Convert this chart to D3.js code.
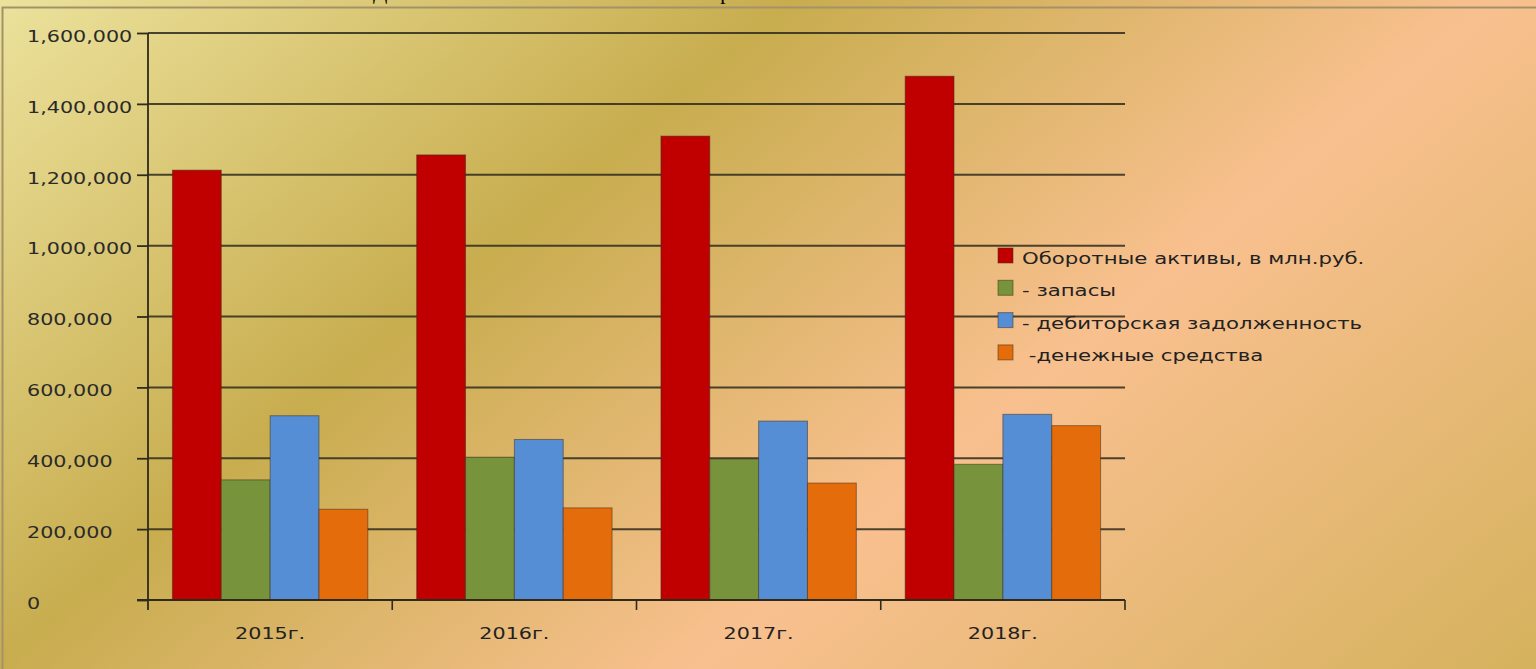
<!DOCTYPE html>
<html>
<head>
  <meta charset="utf-8">
  <style>
    body {
      margin: 0;
      overflow: hidden;
    }
    svg {
      display: block;
    }
    text {
      font-family: "DejaVu Sans", sans-serif;
      fill: #222;
    }
  </style>
</head>
<body>
  <div id="chart"></div>
  <script src="https://d3js.org/d3.v7.min.js"></script>
  <script>
    var width = 1536, height = 669;

    // values
    var years = ["2015г.", "2016г.", "2017г.", "2018г."];
    var seriesNames = ["Оборотные активы, в млн.руб.", "- запасы", "- дебиторская задолженность", " -денежные средства"];
    var currentAssets = [1213000, 1256000, 1309000, 1478000];
    var inventories = [339000, 403000, 398000, 383000];
    var receivables = [520000, 453000, 505000, 524000];
    var cash = [256000, 260000, 330000, 492000];
    var colours = ["#c00000", "#77933c", "#558ed5", "#e46c0a"];
    var yTicks = [0, 200000, 400000, 600000, 800000, 1000000, 1200000, 1400000, 1600000];
    var title = "Динамика показателей оборотных активов за 2015-2018 гг.";

    var series = [currentAssets, inventories, receivables, cash];
    var sx = 1.38; // the source chart text is stretched sideways

    var svg = d3.select("#chart").append("svg")
        .attr("width", width)
        .attr("height", height);

    // background gradient
    var grad = svg.append("defs").append("linearGradient")
        .attr("id", "bg")
        .attr("gradientUnits", "userSpaceOnUse")
        .attr("x1", 0).attr("y1", 0)
        .attr("x2", 959).attr("y2", 1150);
    grad.append("stop").attr("offset", 0).attr("stop-color", "#ece29c");
    grad.append("stop").attr("offset", 0.34).attr("stop-color", "#c8ad4f");
    grad.append("stop").attr("offset", 0.64).attr("stop-color", "#f9c08f");
    grad.append("stop").attr("offset", 1).attr("stop-color", "#d5b25d");

    svg.append("rect")
        .attr("width", width).attr("height", height)
        .attr("fill", "url(#bg)");

    // title, mostly cut off by the top edge
    svg.append("text")
        .attr("x", 373).attr("y", -1.5)
        .attr("textLength", 767)
        .style("font-family", "'Liberation Serif', serif")
        .style("font-size", "21px")
        .style("fill", "#000")
        .text(title);

    // frame
    svg.append("rect")
        .attr("x", 2.5).attr("y", 7.5)
        .attr("width", width + 10).attr("height", height + 10)
        .attr("fill", "none")
        .attr("stroke", "#a39169")
        .attr("stroke-width", 2);

    var plotL = 148, plotR = 1125, plotT = 33, plotB = 600;

    var x0 = d3.scaleBand()
        .domain(years)
        .range([plotL, plotR])
        .paddingInner(0.2)
        .paddingOuter(0.1);

    var x1 = d3.scaleBand()
        .domain(d3.range(series.length))
        .range([0, x0.bandwidth()]);

    var y = d3.scaleLinear()
        .domain([0, 1600000])
        .range([plotB, plotT]);

    // gridlines
    svg.append("g")
      .selectAll("line")
      .data(yTicks.slice(1))
      .enter().append("line")
        .attr("x1", plotL).attr("x2", plotR)
        .attr("y1", d => y(d)).attr("y2", d => y(d))
        .attr("stroke", "#2e2a1c")
        .attr("stroke-opacity", 0.85)
        .attr("stroke-width", 2);

    // bars
    var group = svg.append("g")
      .selectAll("g")
      .data(years)
      .enter().append("g")
        .attr("transform", d => "translate(" + x0(d) + ",0)");

    group.selectAll("rect")
        .data((d, i) => series.map((s, k) => ({ k: k, v: s[i] })))
      .enter().append("rect")
        .attr("x", d => x1(d.k))
        .attr("width", x1.bandwidth())
        .attr("y", d => y(d.v))
        .attr("height", d => y(0) - y(d.v))
        .attr("fill", d => colours[d.k])
        .attr("stroke", "#3a2a1a")
        .attr("stroke-opacity", 0.5)
        .attr("stroke-width", 1);

    // y axis
    var yAxis = svg.append("g")
        .attr("transform", "translate(" + plotL + ",0)")
        .call(d3.axisLeft(y).tickValues(yTicks).tickSize(11).tickFormat(d3.format(",")));
    yAxis.select(".domain")
        .attr("d", "M0," + plotT + "V" + (plotB + 10))
        .attr("stroke", "#2e2a1c")
        .attr("stroke-width", 1.8);
    yAxis.selectAll(".tick line")
        .attr("stroke", "#2e2a1c")
        .attr("stroke-width", 1.8);
    yAxis.selectAll(".tick text")
        .attr("x", 0)
        .attr("dy", "0.35em")
        .attr("text-anchor", "start")
        .attr("transform", "translate(" + (27 - plotL) + ",3) scale(" + sx + ",1)")
        .style("font-size", "15px")
        .style("font-family", "'DejaVu Sans', sans-serif")
        .style("fill", "#2a2a2a");

    // x axis
    svg.append("line")
        .attr("x1", plotL - 11).attr("x2", plotR)
        .attr("y1", plotB).attr("y2", plotB)
        .attr("stroke", "#2e2a1c")
        .attr("stroke-width", 1.8);

    var gap = x0.step() * x0.paddingInner() / 2;
    var bounds = years.map(d => x0(d) - gap).concat([plotR]);
    svg.append("g")
      .selectAll("line")
      .data(bounds.slice(1))
      .enter().append("line")
        .attr("x1", d => d).attr("x2", d => d)
        .attr("y1", plotB).attr("y2", plotB + 10)
        .attr("stroke", "#2e2a1c")
        .attr("stroke-width", 1.6);

    svg.append("g")
      .selectAll("text")
      .data(years)
      .enter().append("text")
        .attr("text-anchor", "middle")
        .attr("transform", d => "translate(" + (x0(d) + x0.bandwidth() / 2) + ",639) scale(" + sx + ",1)")
        .style("font-size", "15px")
        .text(d => d);

    // legend
    var legend = svg.append("g")
      .selectAll("g")
      .data(seriesNames)
      .enter().append("g")
        .attr("transform", (d, i) => "translate(998," + (248 + i * 32.3) + ")");

    legend.append("rect")
        .attr("width", 15).attr("height", 15)
        .attr("fill", (d, i) => colours[i])
        .attr("stroke", "#3a2a1a")
        .attr("stroke-opacity", 0.5);

    legend.append("text")
        .attr("transform", "translate(24,16) scale(" + sx + ",1)")
        .style("font-size", "15.4px")
        .style("white-space", "pre")
        .text(d => d);
  </script>
</body>
</html>
